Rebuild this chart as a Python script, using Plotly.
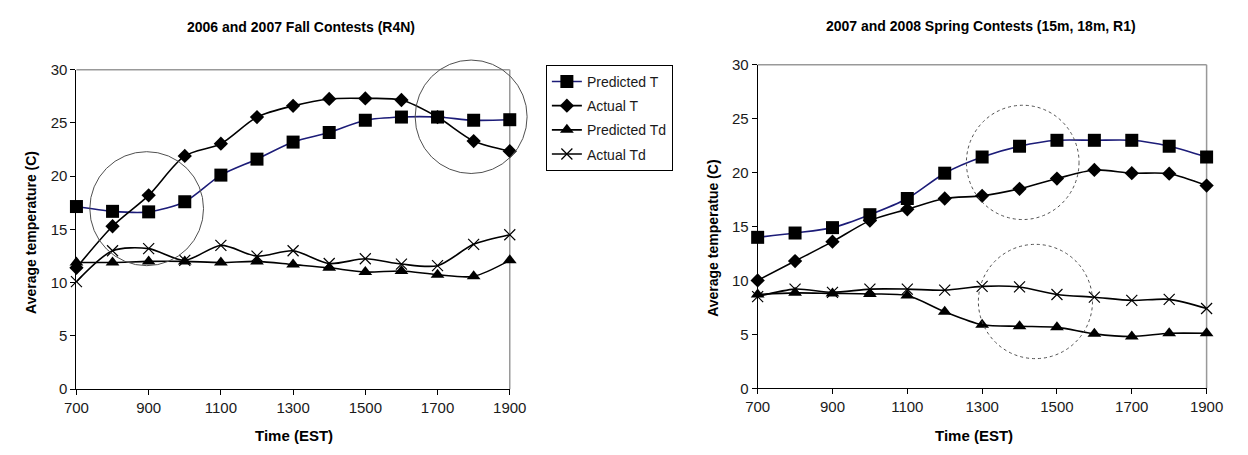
import plotly.graph_objects as go

hours = [700, 800, 900, 1000, 1100, 1200, 1300, 1400, 1500, 1600, 1700, 1800, 1900]

# Left: 2006 and 2007 Fall Contests (R4N)
fall_pred_T = [17.15, 16.7, 16.65, 17.6, 20.1, 21.6, 23.2, 24.1, 25.25, 25.55, 25.55, 25.25, 25.3]
fall_act_T = [11.4, 15.3, 18.2, 21.9, 23.05, 25.55, 26.6, 27.25, 27.3, 27.15, 25.55, 23.3, 22.35]
fall_pred_Td = [11.9, 11.9, 12.0, 12.0, 11.9, 12.0, 11.7, 11.4, 11.0, 11.1, 10.75, 10.6, 12.1]
fall_act_Td = [10.1, 13.0, 13.2, 12.1, 13.5, 12.5, 13.0, 11.8, 12.25, 11.75, 11.6, 13.6, 14.5]

# Right: 2007 and 2008 Spring Contests (15m, 18m, R1)
spring_pred_T = [14.0, 14.4, 14.9, 16.1, 17.6, 19.95, 21.45, 22.45, 23.0, 23.0, 23.0, 22.45, 21.45]
spring_act_T = [10.0, 11.8, 13.6, 15.55, 16.6, 17.6, 17.85, 18.5, 19.45, 20.25, 19.95, 19.9, 18.8]
spring_pred_Td = [8.7, 8.85, 8.8, 8.75, 8.6, 7.1, 5.9, 5.75, 5.65, 5.05, 4.8, 5.1, 5.1]
spring_act_Td = [8.5, 9.2, 8.9, 9.2, 9.2, 9.1, 9.45, 9.4, 8.7, 8.45, 8.15, 8.25, 7.4]

series_names = ["Predicted T", "Actual T", "Predicted Td", "Actual Td"]
x_ticks = [700, 900, 1100, 1300, 1500, 1700, 1900]
y_ticks = [0, 5, 10, 15, 20, 25, 30]

FONT = "Arial, Liberation Sans, sans-serif"
X_RANGE = [700, 1900]
Y_RANGE = [0, 30]

# highlighted regions (x0, x1, y0, y1) in data units
fall_circles = [(737, 1052, 11.6, 22.3), (1638, 1948, 20.25, 30.9)]
spring_circles = [(1258, 1559, 15.65, 26.25), (1290, 1595, 2.75, 13.35)]

styles = [
    dict(symbol="square", size=13, color="#000000", line_color="#1c1c78"),
    dict(symbol="diamond", size=11, color="#000000", line_color="#000000"),
    dict(symbol="triangle-up", size=12, color="#000000", line_color="#000000"),
    dict(symbol="x-thin-open", size=11, color="#000000", line_color="#000000"),
]

fig = go.Figure()

def add_panel(series, xa, ya, show):
    for i, (name, vals) in enumerate(zip(series_names, series)):
        st = styles[i]
        marker = dict(symbol=st["symbol"], size=st["size"], color=st["color"])
        if st["symbol"] == "x-thin-open":
            marker["line"] = dict(width=1.2, color="#000000")
        fig.add_trace(go.Scatter(
            x=hours, y=vals, name=name, mode="lines+markers",
            line=dict(color=st["line_color"], width=1.6, shape="spline", smoothing=0.8),
            marker=marker, xaxis=xa, yaxis=ya, cliponaxis=False,
            showlegend=show, legendgroup=name,
        ))

add_panel([fall_pred_T, fall_act_T, fall_pred_Td, fall_act_Td], "x", "y", True)
add_panel([spring_pred_T, spring_act_T, spring_pred_Td, spring_act_Td], "x2", "y2", False)

def dom(v, r):
    return (v - r[0]) / (r[1] - r[0])

shapes = []
for (x0, x1, y0, y1) in fall_circles:
    shapes.append(dict(type="circle", xref="x domain", yref="y domain",
                       x0=dom(x0, X_RANGE), x1=dom(x1, X_RANGE),
                       y0=dom(y0, Y_RANGE), y1=dom(y1, Y_RANGE),
                       line=dict(color="#505050", width=1)))
for (x0, x1, y0, y1) in spring_circles:
    shapes.append(dict(type="circle", xref="x2 domain", yref="y2 domain",
                       x0=dom(x0, X_RANGE), x1=dom(x1, X_RANGE),
                       y0=dom(y0, Y_RANGE), y1=dom(y1, Y_RANGE),
                       line=dict(color="#505050", width=1, dash="dot")))
# gray top/right plot borders
for ax in ["", "2"]:
    shapes.append(dict(type="line", xref=f"x{ax} domain", yref=f"y{ax} domain",
                       x0=0, x1=1, y0=1, y1=1, line=dict(color="#999999", width=1.5), layer="below"))
    shapes.append(dict(type="line", xref=f"x{ax} domain", yref=f"y{ax} domain",
                       x0=1, x1=1, y0=0, y1=1, line=dict(color="#999999", width=1.5), layer="below"))

axis_common = dict(showline=True, linecolor="#000000", linewidth=1, ticks="outside",
                   ticklen=5, tickcolor="#000000", showgrid=False, zeroline=False,
                   tickfont=dict(family=FONT, size=15, color="#1a1a1a"))

def note(text, x, y, size, angle=0):
    return dict(text=text, x=x / 1248, y=1 - y / 455, xref="paper", yref="paper",
                xanchor="center", yanchor="middle", showarrow=False, textangle=angle,
                font=dict(family=FONT, size=size, weight="bold", color="#000000"))

fig.update_layout(
    width=1248, height=455, autosize=False,
    margin=dict(l=0, r=0, t=0, b=0),
    paper_bgcolor="white", plot_bgcolor="white",
    font=dict(family=FONT, color="#000000"),
    xaxis=dict(domain=[65/1248, 509/1248], range=X_RANGE, tickvals=x_ticks, anchor="y", **axis_common),
    yaxis=dict(domain=[1-395/455, 1-63/455], range=Y_RANGE, tickvals=y_ticks, anchor="x", **axis_common),
    xaxis2=dict(domain=[763/1248, 1223/1248], range=X_RANGE, tickvals=x_ticks, anchor="y2", **axis_common),
    yaxis2=dict(domain=[1-394/455, 1-58/455], range=Y_RANGE, tickvals=y_ticks, anchor="x2", **axis_common),
    shapes=shapes,
    legend=dict(x=546/1248, y=1-58/455, xanchor="left", yanchor="top",
                bordercolor="#000000", borderwidth=1, bgcolor="white",
                font=dict(family=FONT, size=14, color="#1a1a1a"),
                tracegroupgap=3, traceorder="grouped", itemwidth=30),
    annotations=[
        note("2006 and 2007 Fall Contests (R4N)", 295, 19, 14),
        note("2007 and 2008 Spring Contests (15m, 18m, R1)", 992, 18, 14),
        note("Average temperature (C)", 19, 232, 14, -90),
        note("Average temperatue (C)", 717, 238, 14, -90),
        note("Time (EST)", 288, 443, 15),
        note("Time (EST)", 985, 443, 15),
    ],
)

fig.write_html("out.html", config={"displayModeBar": False},
               post_script="document.body.style.margin='0';document.body.style.overflow='hidden';")
